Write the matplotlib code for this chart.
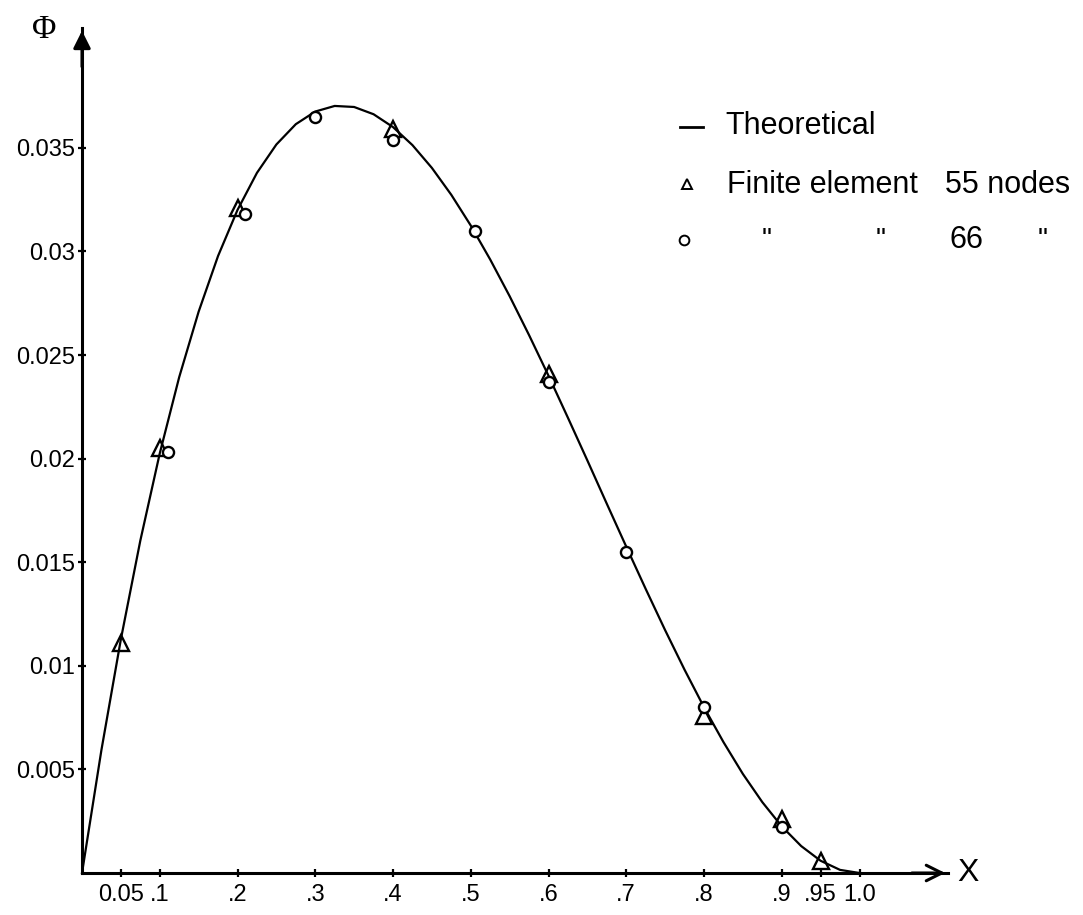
import matplotlib
matplotlib.use("Agg")
from matplotlib import pyplot as plt

# theoretical curve
x_theory = [0, 0.025, 0.05, 0.075, 0.1, 0.125, 0.15, 0.175, 0.2, 0.225, 0.25, 0.275,
            0.3, 0.325, 0.35, 0.375, 0.4, 0.425, 0.45, 0.475, 0.5, 0.525, 0.55, 0.575,
            0.6, 0.625, 0.65, 0.675, 0.7, 0.725, 0.75, 0.775, 0.8, 0.825, 0.85, 0.875,
            0.9, 0.925, 0.95, 0.975, 1.0]
phi_theory = [0, 0.00594, 0.01128, 0.01604, 0.02025, 0.02393, 0.02709, 0.02978, 0.032,
              0.03379, 0.03516, 0.03614, 0.03675, 0.03702, 0.03697, 0.03662, 0.036,
              0.03513, 0.03403, 0.03273, 0.03125, 0.02961, 0.02784, 0.02596, 0.024,
              0.02197, 0.01991, 0.01782, 0.01575, 0.01371, 0.01172, 0.00981, 0.008,
              0.00632, 0.00478, 0.00342, 0.00225, 0.0013, 0.00059, 0.00015, 0]

# finite element, 55 nodes (triangles)
x_55 = [0.05, 0.10, 0.20, 0.40, 0.60, 0.80, 0.90, 0.95]
phi_55 = [0.0111, 0.0205, 0.0321, 0.0359, 0.0241, 0.0076, 0.0026, 0.0006]

# finite element, 66 nodes (circles)
x_66 = [0.11, 0.21, 0.30, 0.40, 0.505, 0.60, 0.70, 0.80, 0.90]
phi_66 = [0.0203, 0.0318, 0.0365, 0.0354, 0.0310, 0.0237, 0.0155, 0.0080, 0.0022]

x_ticks = [0.05, 0.1, 0.2, 0.3, 0.4, 0.5, 0.6, 0.7, 0.8, 0.9, 0.95, 1.0]
x_labels = ['0.05', '.1', '.2', '.3', '.4', '.5', '.6', '.7', '.8', '.9', '.95', '1.0']
y_ticks = [0.005, 0.01, 0.015, 0.02, 0.025, 0.03, 0.035]
y_labels = ['0.005', '0.01', '0.015', '0.02', '0.025', '0.03', '0.035']

plain = ['Liberation Sans', 'DejaVu Sans']

W, H = 1083, 915
fig = plt.figure(figsize=(W / 100, H / 100), dpi=100)
# origin at pixel (82, 873), 777.5 px per unit x, 20720 px per unit phi
xmax = (948 - 82) / 777.5
ymax = (873 - 28) / 20720
ax = fig.add_axes([82 / W, (H - 873) / H, (948 - 82) / W, (873 - 28) / H])
ax.set_xlim(0, xmax)
ax.set_ylim(0, ymax)

for s in ['top', 'right']:
    ax.spines[s].set_visible(False)
for s in ['left', 'bottom']:
    ax.spines[s].set_linewidth(2.2)

ax.plot(x_theory, phi_theory, color='black', lw=1.6, clip_on=False)
ax.plot(x_55, phi_55, ls='none', marker='^', ms=11, mfc='none', mec='black', mew=1.7, clip_on=False)
ax.plot(x_66, phi_66, ls='none', marker='o', ms=8, mfc='white', mec='black', mew=1.7, clip_on=False)

ax.set_xticks(x_ticks)
ax.set_xticklabels(x_labels, fontsize=17, family=plain)
ax.set_yticks(y_ticks)
ax.set_yticklabels(y_labels, fontsize=17, family=plain)
ax.tick_params(axis='x', direction='inout', length=6, width=1.6, pad=5)
ax.tick_params(axis='y', direction='inout', length=6, width=1.6, pad=2)

# axis arrows
ax.annotate('', xy=(xmax, 0), xytext=(xmax - 0.05, 0), annotation_clip=False,
            arrowprops=dict(arrowstyle='->', lw=2.2, mutation_scale=28, color='black'))
ax.annotate('', xy=(0, ymax), xytext=(0, ymax - 0.002), annotation_clip=False,
            arrowprops=dict(arrowstyle='-|>', lw=2.2, mutation_scale=26, color='black'))

ax.text(1.14, 0, 'X', fontsize=23, family=plain, ha='center', va='center', clip_on=False)
ax.text(-0.049, 0.0407, '\u03a6', fontsize=24, family=['Liberation Serif', 'DejaVu Serif'],
        ha='center', va='center', clip_on=False)

# hand-made key
def px(x, y):
    return (x - 82) / 777.5, (873 - y) / 20720

ax.plot(*zip(px(680, 127), px(703, 127)), color='black', lw=2, clip_on=False)
ax.text(*px(725, 126), 'Theoretical', fontsize=22, family=plain, va='center', clip_on=False)
ax.plot(*px(687, 184), ls='none', marker='^', ms=7, mfc='none', mec='black', mew=1.4, clip_on=False)
ax.text(*px(727, 185), 'Finite element', fontsize=22, family=plain, va='center', clip_on=False)
ax.text(*px(945, 185), '55 nodes', fontsize=22, family=plain, va='center', clip_on=False)
ax.plot(*px(684, 240), ls='none', marker='o', ms=7, mfc='none', mec='black', mew=1.4, clip_on=False)
for xd in [762, 876, 1038]:
    ax.text(*px(xd, 240), '"', fontsize=20, family=plain, va='center', clip_on=False)
ax.text(*px(950, 240), '66', fontsize=22, family=plain, va='center', clip_on=False)

fig.savefig('out.png', dpi=100)
